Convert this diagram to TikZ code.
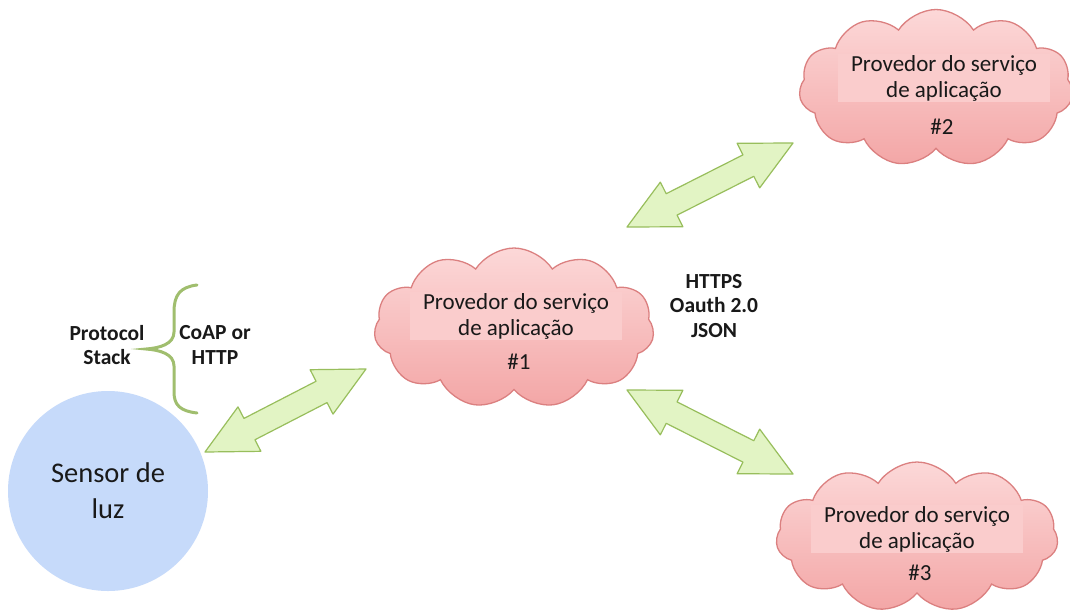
\documentclass[tikz,border=0pt]{standalone}
\usepackage{fontspec}
\setmainfont{Carlito}
\usetikzlibrary{shapes.symbols,calc}
\definecolor{cloudtop}{RGB}{252,216,216}
\definecolor{cloudbot}{RGB}{243,166,166}
\definecolor{cloudline}{RGB}{219,128,128}
\definecolor{rectfill}{RGB}{250,204,204}
\definecolor{arrowfill}{RGB}{226,244,196}
\definecolor{arrowline}{RGB}{152,190,92}
\definecolor{sensorfill}{RGB}{198,218,250}
\definecolor{bracecol}{RGB}{160,190,110}
\definecolor{txt}{RGB}{25,25,25}
\tikzset{
  cloudbox/.style={cloud, cloud puffs=11, cloud puff arc=115, draw=cloudline, line width=1.3pt, top color=cloudtop, bottom color=cloudbot, inner sep=0pt},
  labelbox/.style={fill=rectfill, inner sep=0pt, minimum width=212pt, minimum height=48pt, align=center, text=txt, font=\fontsize{23}{26}\selectfont},
  numlabel/.style={font=\fontsize{23}{26}\selectfont, text=txt},
  boldlabel/.style={font=\bfseries\fontsize{21.5}{24.5}\selectfont, align=center, text=txt},
  arrowshape/.style={fill=arrowfill, draw=arrowline, line width=1.2pt, line join=round},
}
\newcommand{\dblblock}[2]{%
  \draw[arrowshape] (#1)
   -- ($(#1)!50pt!(#2)!25pt!90:(#2)$)
   -- ($(#1)!50pt!(#2)!12pt!90:(#2)$)
   -- ($(#2)!50pt!(#1)!12pt!-90:(#1)$)
   -- ($(#2)!50pt!(#1)!25pt!-90:(#1)$)
   -- (#2)
   -- ($(#2)!50pt!(#1)!25pt!90:(#1)$)
   -- ($(#2)!50pt!(#1)!12pt!90:(#1)$)
   -- ($(#1)!50pt!(#2)!12pt!-90:(#2)$)
   -- ($(#1)!50pt!(#2)!25pt!-90:(#2)$)
   -- cycle;}
\begin{document}
\begin{tikzpicture}[x=1pt,y=-1pt]
\useasboundingbox (0,0) rectangle (1070,614);
\fill[white] (0,0) rectangle (1070,614);

% sensor
\node[circle, fill=sensorfill, minimum size=200pt, inner sep=0pt, align=center, text=txt, font=\fontsize{28.5}{36}\selectfont] (sensor) at (108,491) {Sensor de\\luz};

% brace and labels
\draw[bracecol, line width=3pt, line cap=round] (197,285) .. controls (180,287) and (174,295) .. (174,312) -- (174,332) .. controls (174,344) and (160,348) .. (146,349) .. controls (160,350) and (174,354) .. (174,366) -- (174,392) .. controls (174,405) and (180,411) .. (197,413);
\node[boldlabel] (proto) at (107,345) {Protocol\\Stack};
\node[boldlabel] (coap) at (215,345) {CoAP or\\HTTP};
\node[boldlabel] (https) at (714,306) {HTTPS\\Oauth 2.0\\JSON};

% clouds
\node[cloudbox, minimum width=280pt, minimum height=160pt] (c1) at (514,328) {};
\node[labelbox] (l1) at (516,316) {Provedor do serviço\\de aplicação};
\node[numlabel] (n1) at (519,362) {\#1};

\node[cloudbox, minimum width=274pt, minimum height=157pt] (c2) at (936,88) {};
\node[labelbox] (l2) at (944,78) {Provedor do serviço\\de aplicação};
\node[numlabel] (n2) at (942,127) {\#2};

\node[cloudbox, minimum width=282pt, minimum height=150pt] (c3) at (917,537) {};
\node[labelbox] (l3) at (917,529) {Provedor do serviço\\de aplicação};
\node[numlabel] (n3) at (920,573) {\#3};

% arrows
\coordinate (a1s) at (205,452);
\coordinate (a1e) at (366,369);
\coordinate (a2s) at (627,227);
\coordinate (a2e) at (793,143);
\coordinate (a3s) at (627,390);
\coordinate (a3e) at (793,474);
\dblblock{a1s}{a1e}
\dblblock{a2s}{a2e}
\dblblock{a3s}{a3e}
\end{tikzpicture}
\end{document}
